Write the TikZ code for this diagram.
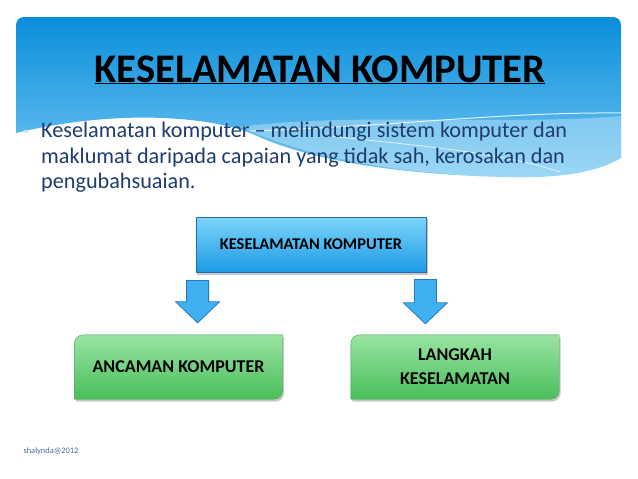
\documentclass[tikz,border=0pt]{standalone}
\usepackage{fontspec}
\setmainfont{Carlito}
\usetikzlibrary{calc,backgrounds}

\definecolor{paneltop}{HTML}{0A8EDB}
\definecolor{panelbot}{HTML}{72C6F2}
\definecolor{bodyblue}{HTML}{1E3D6E}
\definecolor{boxtop}{HTML}{7DD4FB}
\definecolor{boxbot}{HTML}{1C9CE6}
\definecolor{boxline}{HTML}{2C6BAF}
\definecolor{greentop}{HTML}{9AE4A2}
\definecolor{greenbot}{HTML}{48BE5A}
\definecolor{arrowfill}{HTML}{3FB0F2}
\definecolor{arrowline}{HTML}{2A78BE}
\definecolor{footblue}{HTML}{4A6A9C}

\tikzset{
  topbox/.style={rectangle,draw=boxline,line width=0.8pt,top color=boxtop,bottom color=boxbot,
    minimum width=230pt,minimum height=55pt,font=\fontsize{16.4}{19}\selectfont\bfseries},
  greenbox/.style={rectangle,minimum width=208pt,minimum height=64pt,align=center,
    font=\fontsize{18}{24}\selectfont\bfseries},
  greenshape/.style={top color=greentop,bottom color=greenbot,draw=greenbot!85!black,line width=0.4pt},
  boxshadow/.style={fill=black,opacity=0.22},
  blockarrow/.style={fill=arrowfill,draw=arrowline,line width=0.8pt,line join=miter}
}

% box with round top-left and bottom-right corners
\newcommand\snipbox[2]{\path[#1] (#2.south west) -- ([yshift=-9pt]#2.north west)
  arc[start angle=180,end angle=90,radius=9pt] -- (#2.north east) -- ([yshift=9pt]#2.south east)
  arc[start angle=0,end angle=-90,radius=9pt] -- cycle;}
% thick down arrow: shaft x and top from #1, tip from #2
\newcommand\blockarrow[2]{\path[blockarrow] let \p1=(#1), \p2=(#2) in
  (\x1-11pt,\y1) -- (\x1+11pt,\y1) -- (\x1+11pt,\y2+21pt) -- (\x1+22pt,\y2+21pt)
  -- (\x1,\y2) -- (\x1-22pt,\y2+21pt) -- (\x1-11pt,\y2+21pt) -- cycle;}

\begin{document}
\begin{tikzpicture}[x=1pt,y=-1pt]
\begin{scope}[on background layer]
  \fill[white] (0,0) rectangle (638,479);
\end{scope}
\useasboundingbox (0,0) rectangle (638,479);

% header panel
\shade[top color=paneltop,bottom color=panelbot] (16,25) arc[start angle=180,end angle=90,radius=8pt]
  -- (613,17) arc[start angle=90,end angle=0,radius=8pt] -- (621,158)
  .. controls (590,176) and (545,178) .. (505,177) .. controls (420,175) and (320,165) .. (255,135)
  .. controls (215,117) and (120,108) .. (16,133) -- cycle;
\fill[white,opacity=0.3] (621,116) .. controls (500,126) and (350,112) .. (240,127)
  .. controls (320,163) and (420,175) .. (505,177) .. controls (545,178) and (590,176) .. (621,158) -- cycle;
\draw[white,opacity=0.8,line width=1pt] (250,131) .. controls (400,126) and (500,112) .. (621,113);
\draw[white,opacity=0.7,line width=0.8pt] (330,136) .. controls (420,146) and (500,152) .. (560,172);

\node[font=\fontsize{40.6}{48}\selectfont\bfseries,anchor=base] (title) at (320,82) {\underline{KESELAMATAN KOMPUTER}};
\node[text=paneltop!30,font=\fontsize{14}{14}\selectfont\bfseries,anchor=base] (bullet) at (26,139) {*};
\node[anchor=north west,align=left,text=bodyblue,inner sep=0pt,font=\fontsize{22.2}{25.4}\selectfont] (desc) at (41,122)
  {Keselamatan komputer – melindungi sistem komputer dan\\maklumat daripada capaian yang tidak sah, kerosakan dan\\pengubahsuaian.};

% boxes
\node[topbox] (kk) at (311,244.5) {KESELAMATAN KOMPUTER};
\node[greenbox] (ancaman) at (178.5,367) {ANCAMAN KOMPUTER};
\node[greenbox] (langkah) at (455,367) {LANGKAH\\KESELAMATAN};

\begin{scope}[on background layer]
  \path[boxshadow,transform canvas={shift={(1.5pt,-2.5pt)}}] (kk.south west) rectangle (kk.north east);
  \snipbox{boxshadow,transform canvas={shift={(1.5pt,-2.5pt)}}}{ancaman}
  \snipbox{boxshadow,transform canvas={shift={(1.5pt,-2.5pt)}}}{langkah}
  \snipbox{greenshape}{ancaman}
  \snipbox{greenshape}{langkah}
\end{scope}

% arrows
\coordinate (kk-l) at ([xshift=2pt,yshift=-8pt]kk.south west);
\coordinate (ancaman-t) at ([yshift=12pt]ancaman.north);
\coordinate (kk-r) at ([xshift=-1pt,yshift=-7pt]kk.south east);
\coordinate (langkah-t) at ([yshift=11pt]langkah.north);
\blockarrow{kk-l}{ancaman-t}
\blockarrow{kk-r}{langkah-t}

\node[anchor=base west,text=footblue,font=\fontsize{8.4}{9}\selectfont] (credit) at (20,453) {shalynda@2012};
\end{tikzpicture}
\end{document}
